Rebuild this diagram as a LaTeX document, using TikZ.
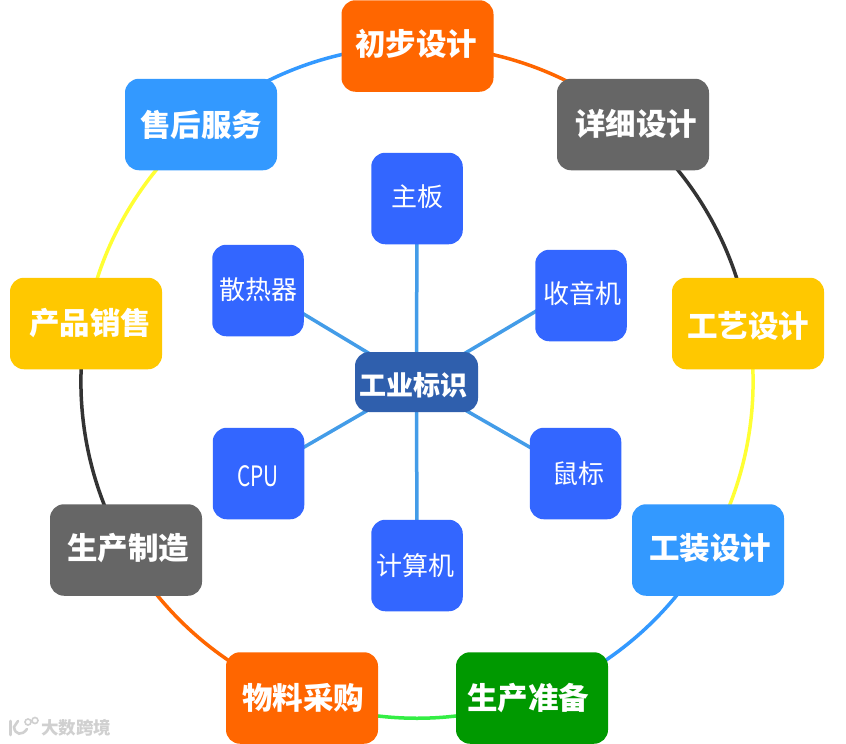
\documentclass[tikz,border=0pt]{standalone}
\usepackage{fontspec}
\usepackage{graphicx}
\setmainfont{Noto Sans CJK SC}
\usetikzlibrary{backgrounds,calc}
\definecolor{cOrange}{HTML}{FF6600}
\definecolor{cGray}{HTML}{666666}
\definecolor{cGold}{HTML}{FFC800}
\definecolor{cSky}{HTML}{3399FF}
\definecolor{cGreen}{HTML}{009900}
\definecolor{cInner}{HTML}{3366FF}
\definecolor{cHub}{HTML}{2F5FAD}
\definecolor{cSpoke}{HTML}{439CE8}
\definecolor{cDark}{HTML}{333333}
\definecolor{cYellow}{HTML}{FFFF33}
\definecolor{cLime}{HTML}{33EE44}
\definecolor{cMark}{HTML}{D0D0D0}
\tikzset{
  outerbox/.style={rounded corners=14pt,minimum width=152pt,minimum height=91.5pt,inner sep=0pt},
  innerbox/.style={rounded corners=14pt,minimum width=91.5pt,minimum height=91.5pt,inner sep=0pt,fill=cInner},
  hubbox/.style={rounded corners=14pt,minimum width=123pt,minimum height=60pt,inner sep=0pt,fill=cHub},
  outertext/.style n args={3}{label={[inner sep=0pt,text=white,font=\fontsize{30.5}{32}\selectfont\bfseries,xshift=#1pt,yshift=#2pt]center:#3}},
  innertext/.style n args={3}{label={[inner sep=0pt,text=white,font=\fontsize{26}{28}\selectfont,xshift=#1pt,yshift=#2pt]center:#3}},
  hubtext/.style n args={3}{label={[inner sep=0pt,text=white,font=\fontsize{27}{29}\selectfont\bfseries,xshift=#1pt,yshift=#2pt]center:#3}},
  ring/.style={line width=3.5pt,bend left=20,looseness=0.88},
  spoke/.style={line width=3.5pt,cSpoke},
  markline/.style={cMark,line width=2.6pt,line cap=round}
}
\begin{document}
\begin{tikzpicture}[x=1pt,y=-1pt]
\useasboundingbox (0,0) rectangle (846,744);
% outer ring
\node[outerbox,fill=cOrange,outertext={-1.5}{2.5}{初步设计}] (design1) at (417.5,46) {};
\node[outerbox,fill=cGray,outertext={3}{1}{详细设计}] (design2) at (633,124.5) {};
\node[outerbox,fill=cGold,outertext={0}{-2}{工艺设计}] (craft) at (748,323.5) {};
\node[outerbox,fill=cSky,outertext={2}{2}{工装设计}] (tool) at (708,550) {};
\node[outerbox,fill=cGreen,outertext={-4}{0}{生产准备}] (prep) at (532,698) {};
\node[outerbox,fill=cOrange,outertext={1}{0}{物料采购}] (buy) at (302,698) {};
\node[outerbox,fill=cGray,outertext={2}{2}{生产制造}] (make) at (126,550) {};
\node[outerbox,fill=cGold,outertext={4}{0}{产品销售}] (sell) at (86,323.5) {};
\node[outerbox,fill=cSky,outertext={0}{0}{售后服务}] (service) at (201,124.5) {};
% centre
\node[hubbox,hubtext={-3}{-3}{工业标识}] (hub) at (416.5,382) {};
\node[innerbox,innertext={0}{1.5}{主板}] (board) at (417,198.5) {};
\node[innerbox,innertext={1.5}{1.5}{收音机}] (radio) at (581,295.5) {};
\node[innerbox,innertext={3}{0}{鼠标}] (mouse) at (575.5,473.5) {};
\node[innerbox,innertext={-2}{-0.5}{计算机}] (computer) at (417,565.5) {};
\node[innerbox,innertext={-0.5}{-3}{\scalebox{0.8}[1.08]{CPU}}] (cpu) at (258.5,473.5) {};
\node[innerbox,innertext={0.5}{0.5}{散热器}] (cooler) at (258,290.5) {};
\begin{scope}[on background layer]
\fill[white] (0,0) rectangle (846,744);
\draw[ring,cOrange] (design1.center) to (design2.center);
\draw[ring,cDark] (design2.center) to (craft.center);
\draw[ring,cYellow] (craft.center) to (tool.center);
\draw[ring,cSky] (tool.center) to (prep.center);
\draw[ring,cLime] (prep.center) to (buy.center);
\draw[ring,cOrange] (buy.center) to (make.center);
\draw[ring,cDark] (make.center) to (sell.center);
\draw[ring,cYellow] (sell.center) to (service.center);
\draw[ring,cSky] (service.center) to (design1.center);
\draw[spoke] (hub.center) -- (board.center);
\draw[spoke] (hub.center) -- ($(radio.center)+(0,-11)$);
\draw[spoke] (hub.center) -- (mouse.center);
\draw[spoke] (hub.center) -- (computer.center);
\draw[spoke] (hub.center) -- (cpu.center);
\draw[spoke] (hub.center) -- ($(cooler.center)+(0,-4)$);
\end{scope}
% watermark
\node[inner sep=0pt,text=cMark,font=\fontsize{17.5}{19}\selectfont\bfseries] (markword) at (76,727.5) {大数跨境};
\draw[markline] (10.5,721) -- (10.5,735);
\draw[markline] (18,721) -- (14,727) .. controls (15,735) and (22,736) .. (27,729);
\draw[markline,line width=1.6pt] (28,722) circle[radius=3pt];
\draw[markline,line width=1.6pt] (35,720.5) circle[radius=3pt];
\end{tikzpicture}
\end{document}
